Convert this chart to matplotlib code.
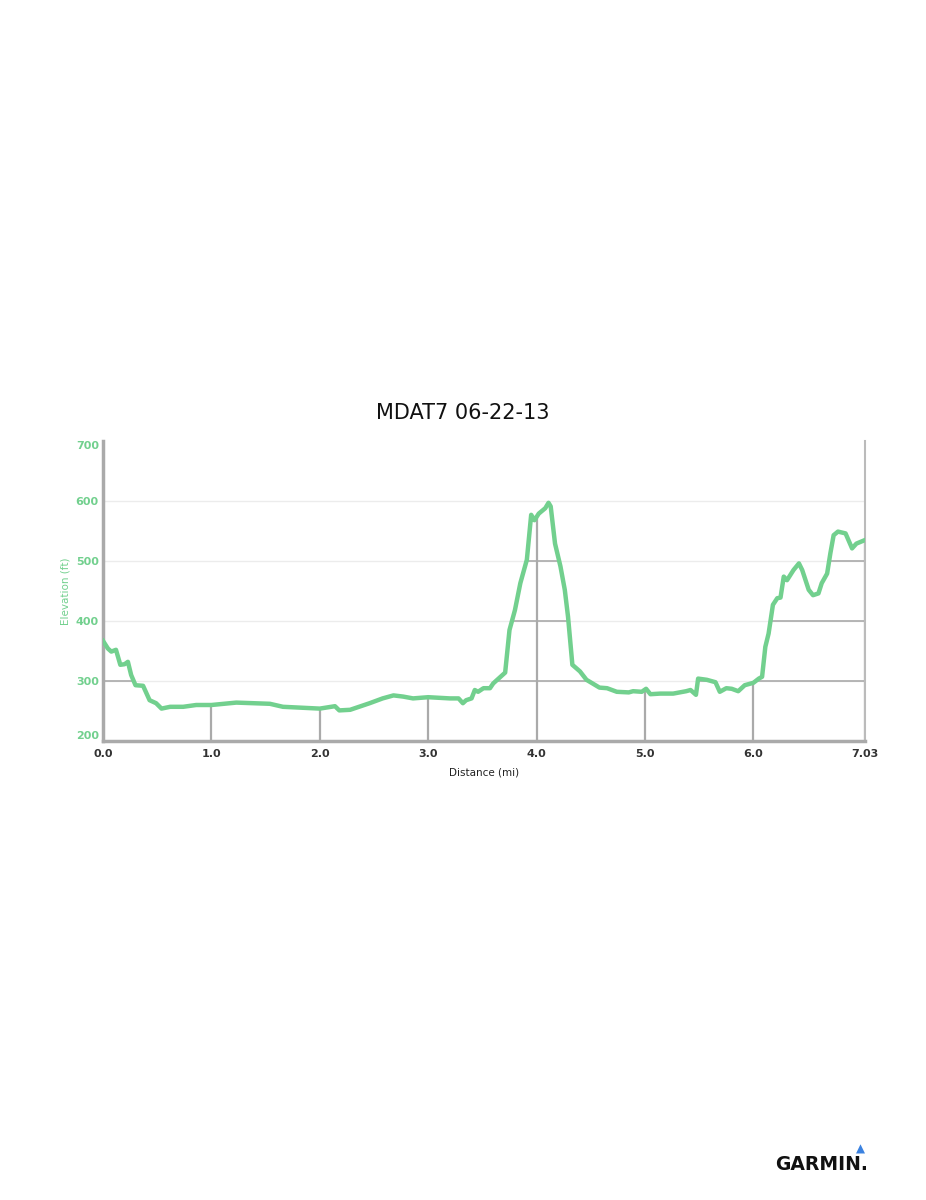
import matplotlib.pyplot as plt
from matplotlib.patches import Polygon

# Profil d'altitude
distance = [0.0, 0.046, 0.077, 0.12, 0.16, 0.2, 0.23, 0.26, 0.30, 0.37, 0.43, 0.49, 0.54,
            0.62, 0.74, 0.86, 1.0, 1.23, 1.54, 1.66, 2.0, 2.14, 2.18, 2.28, 2.46, 2.58,
            2.68, 2.77, 2.86, 3.0, 3.2, 3.28, 3.32, 3.35, 3.40, 3.43, 3.46, 3.51, 3.57,
            3.60, 3.71, 3.75, 3.80, 3.85, 3.91, 3.95, 3.98, 4.02, 4.08, 4.11, 4.13, 4.17,
            4.22, 4.26, 4.29, 4.33, 4.40, 4.46, 4.58, 4.65, 4.74, 4.85, 4.89, 4.97, 5.01,
            5.05, 5.14, 5.26, 5.38, 5.42, 5.47, 5.49, 5.57, 5.65, 5.69, 5.75, 5.80, 5.86,
            5.92, 6.0, 6.05, 6.08, 6.11, 6.14, 6.18, 6.22, 6.25, 6.28, 6.31, 6.37, 6.42,
            6.45, 6.51, 6.55, 6.60, 6.63, 6.68, 6.71, 6.74, 6.78, 6.85, 6.91, 6.95, 7.03]
elevation = [367, 354, 349, 352, 327, 328, 332, 310, 293, 292, 268, 263, 254,
             257, 257, 260, 260, 264, 262, 257, 254, 258, 251, 252, 263, 271,
             276, 274, 271, 273, 271, 271, 263, 268, 271, 285, 282, 288, 288,
             296, 314, 385, 418, 463, 502, 577, 568, 579, 588, 597, 591, 529,
             491, 452, 407, 327, 316, 302, 289, 288, 282, 281, 283, 282, 287,
             278, 279, 279, 283, 285, 277, 304, 302, 298, 282, 288, 287, 283,
             293, 297, 304, 307, 357, 379, 427, 438, 439, 474, 468, 485, 496,
             485, 452, 443, 446, 463, 479, 513, 543, 549, 546, 521, 529, 535]

x_ticks = [0.0, 1.0, 2.0, 3.0, 4.0, 5.0, 6.0, 7.03]
x_labels = ['0.0', '1.0', '2.0', '3.0', '4.0', '5.0', '6.0', '7.03']
y_ticks = [200, 300, 400, 500, 600, 700]

green = '#72d08e'

fig = plt.figure(figsize=(9.26, 12), dpi=100)
ax = fig.add_axes([0.1112, 0.3825, 0.823, 0.25])
ax.set_xlim(0, 7.03)
ax.set_ylim(200, 700)

# Grille claire au-dessus de la courbe
for v in y_ticks[1:-1]:
    ax.axhline(v, color='#ececec', lw=1, zorder=1)

# Grille foncée seulement sous la courbe
zone = Polygon(list(zip(distance, elevation)) + [(7.03, 200), (0, 200)],
               closed=True, facecolor='none', edgecolor='none', transform=ax.transData)
ax.add_patch(zone)
for v in y_ticks[1:-1]:
    l = ax.axhline(v, color='#aaaaaa', lw=1.2, zorder=2)
    l.set_clip_path(zone)
for v in x_ticks[1:]:
    l = ax.axvline(v, color='#aaaaaa', lw=1.6, zorder=2)
    l.set_clip_path(zone)

ax.plot(distance, elevation, color=green, lw=3.2, solid_joinstyle='round', zorder=3)

ax.spines['top'].set_visible(False)
ax.spines['left'].set_color('#aaaaaa')
ax.spines['left'].set_linewidth(2.5)
ax.spines['bottom'].set_color('#aaaaaa')
ax.spines['bottom'].set_linewidth(2.5)
ax.spines['right'].set_color('#bbbbbb')
ax.spines['right'].set_linewidth(1.5)

ax.set_xticks(x_ticks)
ax.set_xticklabels(x_labels, fontsize=8, fontweight='bold', color='#333333')
ax.set_yticks(y_ticks)
ax.set_yticklabels([str(v) for v in y_ticks], fontsize=8, fontweight='bold', color=green)
ax.tick_params(length=0, pad=6)
ax.tick_params(axis='y', pad=3)
# les étiquettes extrêmes sont rentrées vers l'intérieur
ylabs = ax.get_yticklabels()
ylabs[0].set_va('bottom')
ylabs[-1].set_va('top')

ax.set_xlabel('Distance (mi)', fontsize=7.5, color='#222222', labelpad=6)
ax.set_ylabel('Elevation (ft)', fontsize=7.5, color=green, labelpad=4)

fig.text(0.5, 0.656, 'MDAT7 06-22-13', ha='center', va='center', fontsize=15, color='#111111')

# Logo Garmin
fig.text(0.887, 0.0292, 'GARMIN.', ha='center', va='center', fontsize=13.5,
         fontweight='bold', color='#111111')
fig.text(0.929, 0.0425, '\u25b2', ha='center', va='center', fontsize=8.5, color='#3b82e0')

fig.savefig('out.png', dpi=100)
